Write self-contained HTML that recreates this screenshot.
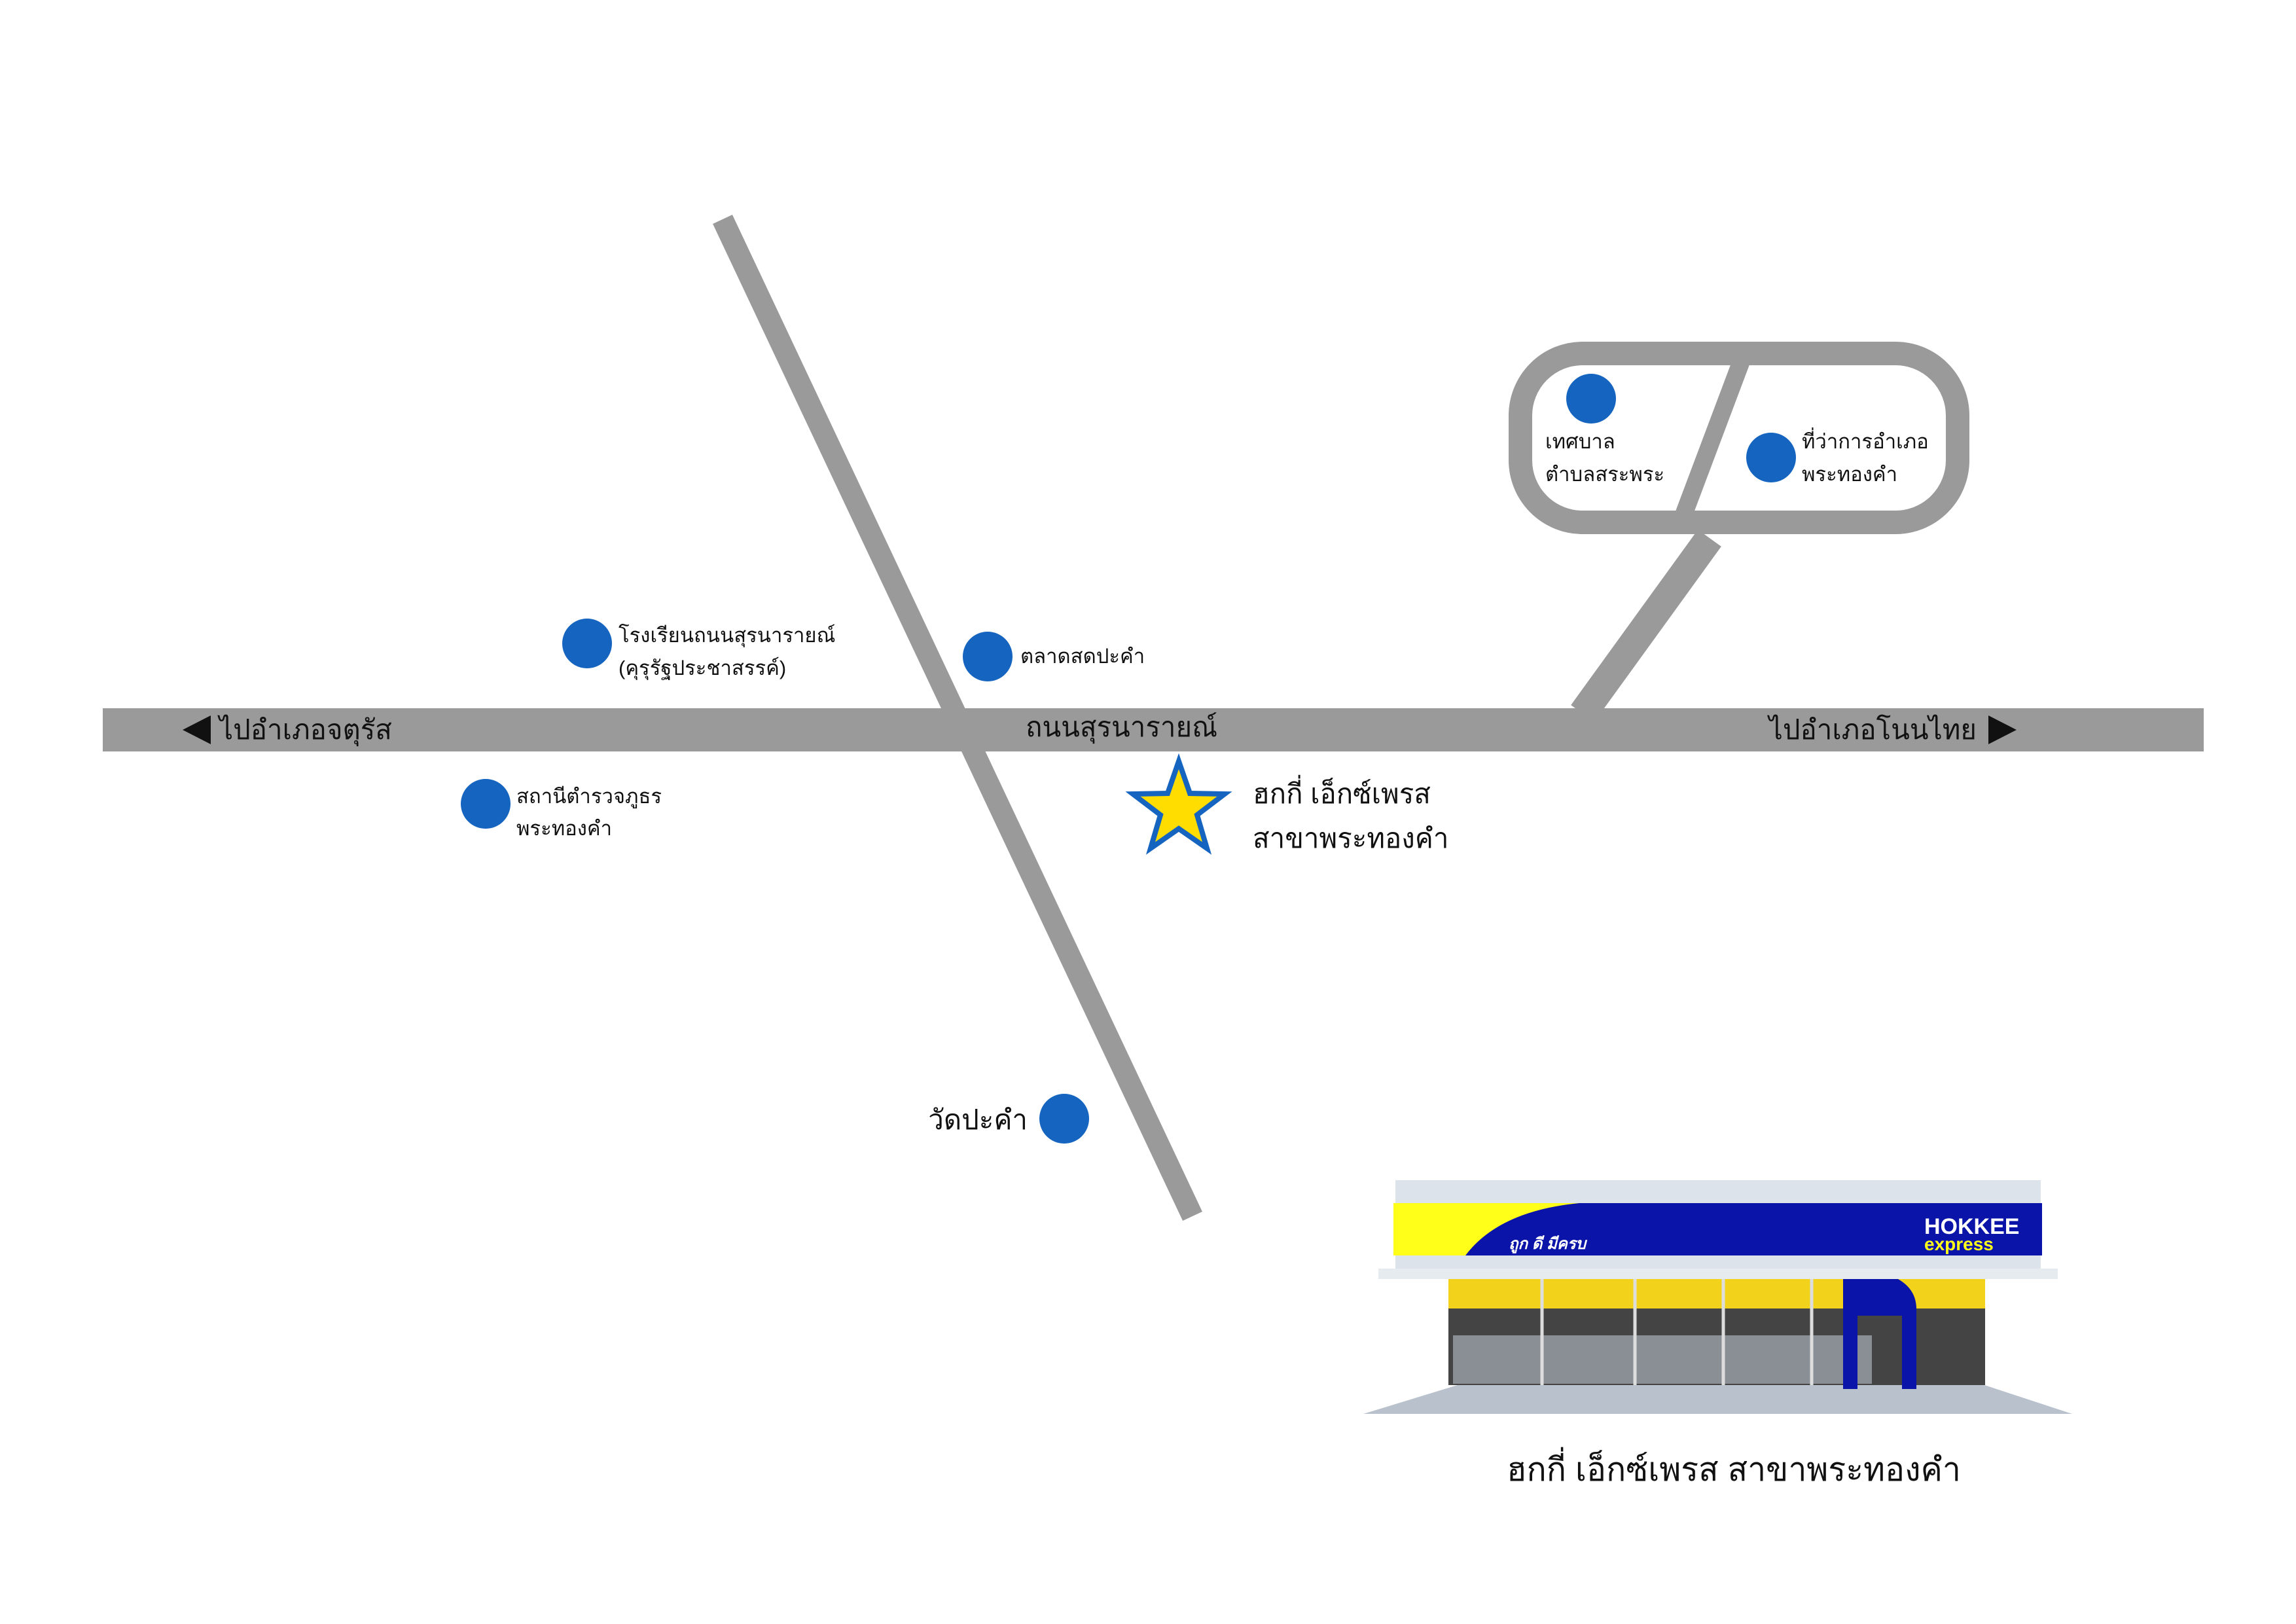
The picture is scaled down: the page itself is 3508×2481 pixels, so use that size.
<!DOCTYPE html>
<html><head><meta charset="utf-8"><style>
html,body{margin:0;padding:0;background:#fff}
svg{display:block}
text{font-family:"Liberation Sans","DejaVu Sans",sans-serif;fill:#111}
</style></head><body>
<svg width="3508" height="2481" viewBox="0 0 3508 2481" xmlns="http://www.w3.org/2000/svg">
<rect width="3508" height="2481" fill="#fff"/>
<line x1="1104" y1="335" x2="1822" y2="1858" stroke="#9a9a9b" stroke-width="33"/>
<line x1="2418" y1="1090" x2="2612" y2="822" stroke="#9a9a9b" stroke-width="44"/>
<rect x="157" y="1082" width="3210" height="66" fill="#9a9a9b"/>
<rect x="2323" y="540" width="668" height="258" rx="95" fill="#fff" stroke="#9a9a9b" stroke-width="36"/>
<line x1="2662" y1="548" x2="2571" y2="790" stroke="#9a9a9b" stroke-width="27"/>
<g fill="#1565c0">
<circle cx="2431" cy="609" r="38"/>
<circle cx="2706" cy="699" r="38"/>
<circle cx="897" cy="983" r="38"/>
<circle cx="1509" cy="1003" r="38"/>
<circle cx="742" cy="1228" r="38"/>
<circle cx="1626" cy="1709" r="38"/>
</g>
<polygon fill="#ffdd00" stroke="#1565c0" stroke-width="8" points="1801,1163 1818,1212 1871,1213 1829,1245 1844,1296 1801,1266 1758,1296 1773,1245 1731,1213 1784,1212"/>
<g font-size="31">
<text x="2361" y="685">เทศบาล</text>
<text x="2361" y="735">ตำบลสระพระ</text>
<text x="2753" y="685">ที่ว่าการอำเภอ</text>
<text x="2753" y="735">พระทองคำ</text>
<text x="945" y="981">โรงเรียนถนนสุรนารายณ์</text>
<text x="945" y="1031">(คุรุรัฐประชาสรรค์)</text>
<text x="1559" y="1013">ตลาดสดปะคำ</text>
<text x="789" y="1227">สถานีตำรวจภูธร</text>
<text x="789" y="1276">พระทองคำ</text>
</g>
<g font-size="42">
<text x="1570" y="1725" text-anchor="end">วัดปะคำ</text>
<text x="335" y="1129">ไปอำเภอจตุรัส</text>
<text x="1567" y="1125">ถนนสุรนารายณ์</text>
<text x="3020" y="1129" text-anchor="end">ไปอำเภอโนนไทย</text>
<text x="1914" y="1227">ฮกกี่ เอ็กซ์เพรส</text>
<text x="1914" y="1295">สาขาพระทองคำ</text>
</g>
<polygon points="279,1115 322,1093 322,1137" fill="#111"/>
<polygon points="3081,1115 3038,1093 3038,1137" fill="#111"/>
<polygon points="2240,2112 3020,2112 3166,2160 2083,2160" fill="#b9c2cc"/>
<rect x="2132" y="1803" width="986" height="140" fill="#dde3ea"/>
<rect x="2129" y="1838" width="991" height="80" fill="#0a14a8"/>
<path d="M2129,1838 L2413,1838 Q2290,1850 2239,1918 L2129,1918 Z" fill="#ffff1a"/>
<text x="2305" y="1908" font-size="24" font-style="italic" font-weight="bold" style="fill:#fff">ถูก ดี มีครบ</text>
<text x="2940" y="1885" font-size="34" font-weight="bold" style="fill:#fff">HOKKEE</text>
<text x="2940" y="1910" font-size="28" font-weight="bold" style="fill:#ffff1a">express</text>
<rect x="2106" y="1938" width="1038" height="16" fill="#e6ebf0"/>
<rect x="2213" y="1954" width="820" height="162" fill="#444"/>
<rect x="2213" y="1954" width="820" height="45" fill="#f2d21a"/>
<rect x="2220" y="2040" width="640" height="74" fill="#8a8f96"/>
<g stroke="#ddd" stroke-width="5"><line x1="2356" y1="1954" x2="2356" y2="2116"/><line x1="2498" y1="1954" x2="2498" y2="2116"/><line x1="2633" y1="1954" x2="2633" y2="2116"/><line x1="2768" y1="1954" x2="2768" y2="2116"/></g>
<path d="M2816,2122 L2816,1954 L2900,1954 Q2928,1970 2928,2000 L2928,2122 L2906,2122 L2906,2010 L2838,2010 L2838,2122 Z" fill="#0a14a8"/>
<text x="2649" y="2262" font-size="50" text-anchor="middle">ฮกกี่ เอ็กซ์เพรส สาขาพระทองคำ</text>
</svg>
</body></html>
